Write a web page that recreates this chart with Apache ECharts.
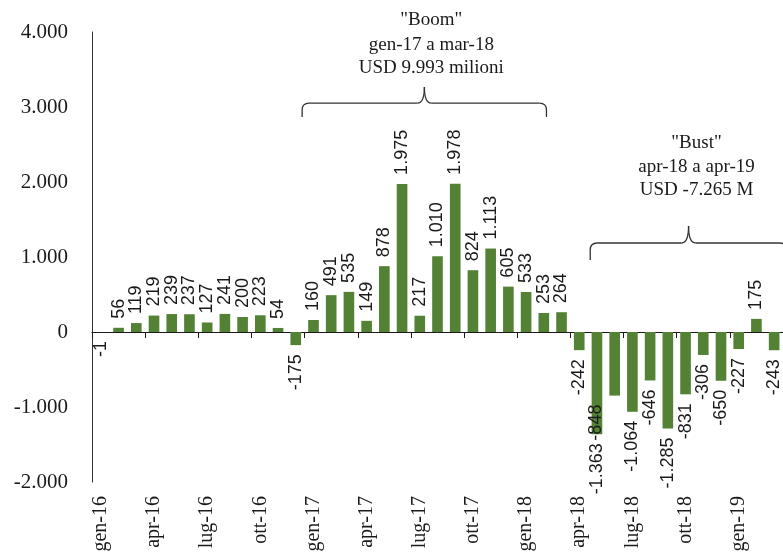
<!DOCTYPE html>
<html>
<head>
<meta charset="utf-8">
<script src="https://cdn.jsdelivr.net/npm/echarts@6/dist/echarts.min.js"></script>
<style>
  html, body { margin: 0; padding: 0; background: #ffffff; }
  #chart { width: 783px; height: 555px; }
</style>
</head>
<body>
<div id="chart"></div>
<script>
// Monthly net flows, gen-16 .. mar-19 (USD milioni)
const months = [
  'gen-16','feb-16','mar-16','apr-16','mag-16','giu-16','lug-16','ago-16','set-16','ott-16','nov-16','dic-16',
  'gen-17','feb-17','mar-17','apr-17','mag-17','giu-17','lug-17','ago-17','set-17','ott-17','nov-17','dic-17',
  'gen-18','feb-18','mar-18','apr-18','mag-18','giu-18','lug-18','ago-18','set-18','ott-18','nov-18','dic-18',
  'gen-19','feb-19','mar-19'
];
const values = [
  -1, 56, 119, 219, 239, 237, 127, 241, 200, 223, 54, -175,
  160, 491, 535, 149, 878, 1975, 217, 1010, 1978, 824, 1113, 605,
  533, 253, 264, -242, -1363, -848, -1064, -646, -1285, -831, -306, -650,
  -227, 175, -243
];
const yMin = -2000;
const yMax = 4000;
const yStep = 1000;

// Period annotations (text lines above the braces)
const boomLines = ['"Boom"', 'gen-17 a mar-18', 'USD 9.993 milioni'];
const bustLines = ['"Bust"', 'apr-18 a apr-19', 'USD -7.265 M'];

const GREEN = '#548235';
const SERIF = '"Liberation Serif", "DejaVu Serif", serif';
const SANS = '"Liberation Sans", "DejaVu Sans", sans-serif';

function fmt(v) {
  const neg = v < 0;
  let s = String(Math.abs(Math.round(v)));
  s = s.replace(/\B(?=(\d{3})+(?!\d))/g, '.');
  return (neg ? '-' : '') + s;
}

// giu-18 label is shifted left, next to the mag-18 one
const shiftedLabel = months.indexOf('giu-18');

// One label per bar: above positive bars, below negative ones, read bottom-up
const barData = values.map(function (v, i) {
  const pos = v >= 0;
  const label = {
    position: pos ? 'top' : 'bottom',
    align: pos ? 'left' : 'right',
    verticalAlign: 'middle'
  };
  // offset is in the rotated text frame: -y moves the text to the left
  if (i === shiftedLabel) label.offset = [0, -19];
  return { value: v, label: label };
});

const chart = echarts.init(document.getElementById('chart'), null, { renderer: 'canvas' });

chart.setOption({
  animation: false,
  backgroundColor: '#ffffff',
  grid: { left: 92, right: -4, top: 32, bottom: 73, containLabel: false },
  xAxis: [
    {
      type: 'category',
      data: months,
      boundaryGap: true,
      axisLine: { onZero: true, lineStyle: { color: '#1a1a1a', width: 1 } },
      axisTick: { show: true, interval: 2, length: 6, lineStyle: { color: '#1a1a1a' } },
      axisLabel: { show: false },
      splitLine: { show: false }
    },
    {
      type: 'category',
      data: months,
      position: 'bottom',
      boundaryGap: true,
      axisLine: { show: false, onZero: false },
      axisTick: { show: false },
      axisLabel: {
        show: true, interval: 2, rotate: 90, margin: 14,
        fontFamily: SERIF, fontSize: 20, color: '#1a1a1a'
      },
      splitLine: { show: false }
    }
  ],
  yAxis: {
    type: 'value',
    min: yMin, max: yMax, interval: yStep,
    axisLine: { show: true, lineStyle: { color: '#333333', width: 1 } },
    axisTick: { show: false },
    splitLine: { show: false },
    axisLabel: {
      margin: 24, fontFamily: SERIF, fontSize: 21, color: '#1a1a1a',
      formatter: fmt
    }
  },
  series: [{
    type: 'bar',
    xAxisIndex: 0,
    data: barData,
    barWidth: '60%',
    itemStyle: { color: GREEN },
    label: {
      show: true, rotate: 90, distance: 9,
      fontFamily: SANS, fontSize: 18, color: '#1a1a1a',
      formatter: function (p) { return fmt(p.value); }
    }
  }]
});

// Braces and captions, placed on the chart's own scales
function xAt(pos) {
  const a = chart.convertToPixel({ xAxisIndex: 0 }, 0);
  const b = chart.convertToPixel({ xAxisIndex: 0 }, 1);
  return a + pos * (b - a);
}
function yAt(v) {
  return chart.convertToPixel({ yAxisIndex: 0 }, v);
}
const braceStyle = { stroke: '#333333', lineWidth: 1.3, fill: null };
function seg(x1, y1, x2, y2) {
  return { type: 'line', shape: { x1: x1, y1: y1, x2: x2, y2: y2 }, style: braceStyle, silent: true };
}
function curve(x1, y1, cx, cy, x2, y2) {
  return { type: 'bezierCurve', shape: { x1: x1, y1: y1, cpx1: cx, cpy1: cy, x2: x2, y2: y2 }, style: braceStyle, silent: true };
}
function brace(left, tip, right, yTip, yMid, yEnd) {
  const x1 = xAt(left), xt = xAt(tip), x2 = xAt(right);
  const t = yAt(yTip), m = yAt(yMid), e = yAt(yEnd);
  const r = 7;
  return {
    type: 'group',
    silent: true,
    children: [
      seg(x1, e, x1, m + r),
      curve(x1, m + r, x1, m, x1 + r, m),
      seg(x1 + r, m, xt - r, m),
      curve(xt - r, m, xt, m, xt, t),
      curve(xt, t, xt, m, xt + r, m),
      seg(xt + r, m, x2 - r, m),
      curve(x2 - r, m, x2, m, x2, m + r),
      seg(x2, m + r, x2, e)
    ]
  };
}
function caption(lines, pos, vals) {
  return lines.map(function (txt, i) {
    return {
      type: 'text',
      x: xAt(pos), y: yAt(vals[i]),
      style: {
        text: txt, fill: '#1a1a1a', font: '19px ' + SERIF,
        textAlign: 'center', textVerticalAlign: 'middle'
      },
      silent: true
    };
  });
}

chart.setOption({
  graphic: [
    brace(11.36, 18.26, 25.15, 3267, 3053, 2867),
    brace(27.62, 33.17, 38.72, 1413, 1187, 960)
  ].concat(
    caption(boomLines, 18.65, [4160, 3827, 3520]),
    caption(bustLines, 33.62, [2520, 2200, 1893])
  )
});
</script>
</body>
</html>
